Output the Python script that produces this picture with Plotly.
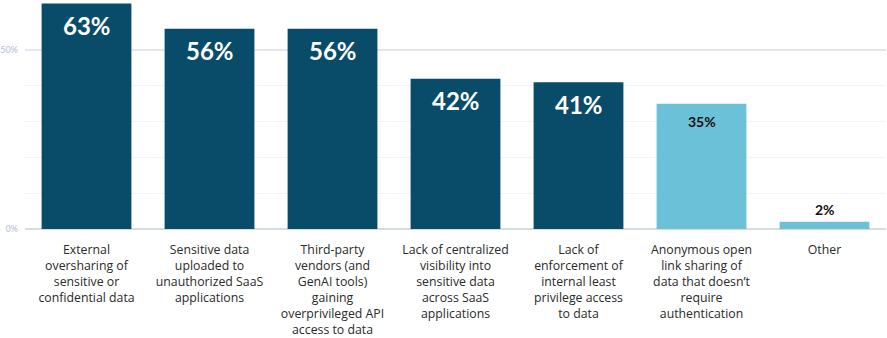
import plotly.graph_objects as go

categories = [
    "External<br>oversharing of<br>sensitive or<br>confidential data",
    "Sensitive data<br>uploaded to<br>unauthorized SaaS<br>applications",
    "Third-party<br>vendors (and<br>GenAI tools)<br>gaining<br>overprivileged API<br>access to data",
    "Lack of centralized<br>visibility into<br>sensitive data<br>across SaaS<br>applications",
    "Lack of<br>enforcement of<br>internal least<br>privilege access<br>to data",
    "Anonymous open<br>link sharing of<br>data that doesn\u2019t<br>require<br>authentication",
    "Other",
]
values = [63, 56, 56, 42, 41, 35, 2]
bar_colors = ["#084c6a", "#084c6a", "#084c6a", "#084c6a", "#084c6a", "#6bc1d8", "#6bc1d8"]

keys = list(range(len(categories)))

fig = go.Figure(
    go.Bar(
        x=keys,
        y=values,
        marker=dict(color=bar_colors, line=dict(width=0)),
        width=0.73,
        hoverinfo="skip",
    )
)

# value labels: large white inside the dark bars, small dark for the light bars
annotations = []
for k, v, c in zip(keys, values, bar_colors):
    if c == "#084c6a":
        annotations.append(dict(x=k, y=v, text=f"<b>{v}%</b>", showarrow=False,
                                yshift=-22, font=dict(family="Lato", size=24, color="white")))
    elif v >= 10:
        annotations.append(dict(x=k, y=v, text=f"<b>{v}%</b>", showarrow=False,
                                yshift=-18, font=dict(family="Lato", size=14, color="#111111")))
    else:
        annotations.append(dict(x=k, y=v, text=f"<b>{v}%</b>", showarrow=False,
                                yshift=12, font=dict(family="Lato", size=14, color="#111111")))

fig.update_layout(
    width=887,
    height=338,
    margin=dict(l=25, r=1, t=0, b=109),
    paper_bgcolor="white",
    plot_bgcolor="white",
    showlegend=False,
    bargap=0.27,
    annotations=annotations,
    xaxis=dict(
        tickmode="array",
        tickvals=keys,
        ticktext=categories,
        tickfont=dict(family="Open Sans", size=12.3, color="#2a2a2a"),
        showgrid=False,
        showline=False,
        zeroline=False,
        ticks="",
        ticklabelstandoff=12,
        range=[-0.5, len(keys) - 0.5],
    ),
    yaxis=dict(
        range=[0, 64],
        tickvals=[0, 50],
        ticktext=["<b>0%</b>", "<b>50%</b>"],
        tickfont=dict(family="Lato", size=9, color="#c5cbe0"),
        showgrid=True,
        gridcolor="#e2e6ee",
        gridwidth=2,
        zeroline=True,
        zerolinecolor="#d6dce6",
        zerolinewidth=2,
        showline=False,
        ticks="",
        ticklabelstandoff=6,
        minor=dict(tickvals=[10, 20, 30, 40], showgrid=True, gridcolor="#f2f3f5", gridwidth=1),
    ),
)

fig.write_html("out.html")
